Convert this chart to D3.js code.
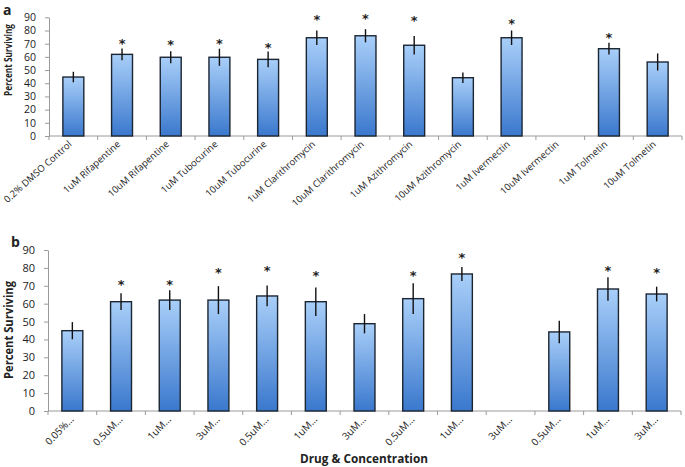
<!DOCTYPE html>
<html>
<head>
<meta charset="utf-8">
<script src="https://cdn.jsdelivr.net/npm/d3@7"></script>
<style>
  body { margin: 0; background: #fff; }
  text { font-family: "Open Sans", sans-serif; fill: #222; }
</style>
</head>
<body>
<svg id="chart" width="685" height="467"></svg>
<script>
// ---- data ----
var yTicks = [0, 10, 20, 30, 40, 50, 60, 70, 80, 90];

var catsA = ["0.2% DMSO Control", "1uM Rifapentine", "10uM Rifapentine", "1uM Tubocurine",
    "10uM Tubocurine", "1uM Clarithromycin", "10uM Clarithromycin", "1uM Azithromycin",
    "10uM Azithromycin", "1uM Ivermectin", "10uM Ivermectin", "1uM Tolmetin", "10uM Tolmetin"];
var meanA = [44.7, 61.9, 59.7, 59.7, 58.1, 74.5, 76.0, 68.8, 44.2, 74.5, 0, 66.2, 56.1];
var errA = [4.0, 4.5, 4.5, 6.5, 6.0, 5.5, 5.0, 7.0, 4.0, 5.5, 0, 4.5, 6.5];
// where the significance star sits (in percent units), null = no star
var starA = [null, 72.3, 71.5, 72.3, 69.0, 90.4, 91.0, 89.2, null, 87.4, null, 76.6, null];

var catsB = ["0.05%…", "0.5uM…", "1uM…", "3uM…", "0.5uM…", "1uM…", "3uM…",
    "0.5uM…", "1uM…", "3uM…", "0.5uM…", "1uM…", "3uM…"];
var meanB = [44.9, 61.1, 62.0, 62.0, 64.3, 61.1, 48.8, 62.8, 76.6, 0, 44.2, 68.2, 65.4];
var errB = [4.8, 4.7, 5.5, 7.8, 5.8, 8.0, 5.4, 8.6, 3.9, 0, 6.3, 6.5, 4.1];
var starB = [null, 72.3, 72.3, 78.8, 80.1, 77.3, null, 77.0, 87.2, null, null, 80.1, 78.8];

var svg = d3.select("#chart");

// bar fill gradient
var grad = svg.append("defs").append("linearGradient")
    .attr("id", "barFill")
    .attr("x1", 0).attr("y1", 0).attr("x2", 0).attr("y2", 1);
grad.append("stop").attr("offset", "0%").attr("stop-color", "#a9cff9");
grad.append("stop").attr("offset", "100%").attr("stop-color", "#3a78cd");

function drawPanel(p) {
    var g = svg.append("g");

    var x = d3.scaleBand()
        .domain(d3.range(p.cats.length))
        .range([p.left, p.right])
        .padding(0);
    var y = d3.scaleLinear()
        .domain([0, 90])
        .range([p.bottom, p.top]);

    var barW = x.bandwidth() * 0.43;

    // y axis
    var yAxis = g.append("g")
        .attr("transform", "translate(" + p.left + ",0)")
        .call(d3.axisLeft(y).tickValues(yTicks).tickSize(4).tickPadding(9).tickSizeOuter(0));
    yAxis.select(".domain").attr("stroke", "#9a9a9a");
    yAxis.selectAll(".tick line").attr("stroke", "#9a9a9a");
    yAxis.selectAll(".tick text")
        .style("font-family", "'Open Sans', sans-serif")
        .style("font-size", p.tickSize + "px")
        .attr("fill", "#222");

    // x axis line + tick marks at category boundaries
    g.append("line")
        .attr("x1", p.left).attr("x2", p.right)
        .attr("y1", p.bottom).attr("y2", p.bottom)
        .attr("stroke", "#9a9a9a");
    var bounds = d3.range(p.cats.length + 1).map((i) => i < p.cats.length ? x(i) : p.right);
    g.selectAll(".xtick")
        .data(bounds)
        .enter()
        .append("line")
        .attr("x1", (d) => d).attr("x2", (d) => d)
        .attr("y1", p.bottom).attr("y2", p.bottom + 4)
        .attr("stroke", "#9a9a9a");

    var rows = p.cats.map((c, i) => ({ i: i, cat: c, mean: p.mean[i], err: p.err[i], star: p.star[i] }));

    // bars
    g.selectAll(".bar")
        .data(rows.filter((d) => d.mean > 0))
        .enter()
        .append("rect")
        .attr("x", (d) => x(d.i) + x.bandwidth() / 2 - barW / 2)
        .attr("width", barW)
        .attr("y", (d) => y(d.mean))
        .attr("height", (d) => y(0) - y(d.mean))
        .attr("fill", "url(#barFill)")
        .attr("stroke", "#1c2633")
        .attr("stroke-width", 1.4);

    // error bars
    g.selectAll(".err")
        .data(rows.filter((d) => d.err > 0))
        .enter()
        .append("line")
        .attr("x1", (d) => x(d.i) + x.bandwidth() / 2)
        .attr("x2", (d) => x(d.i) + x.bandwidth() / 2)
        .attr("y1", (d) => y(d.mean - d.err))
        .attr("y2", (d) => y(d.mean + d.err))
        .attr("stroke", "#111")
        .attr("stroke-width", 1.4);

    // significance stars
    g.selectAll(".star")
        .data(rows.filter((d) => d.star != null))
        .enter()
        .append("text")
        .attr("x", (d) => x(d.i) + x.bandwidth() / 2)
        .attr("y", (d) => y(d.star) + 7)
        .attr("text-anchor", "middle")
        .style("font-family", "'DejaVu Sans', sans-serif")
        .style("font-size", "13px")
        .style("font-weight", "bold")
        .attr("fill", "#333")
        .text("*");

    // category labels
    g.selectAll(".xlab")
        .data(rows)
        .enter()
        .append("text")
        .attr("transform", (d) => "translate(" + (x(d.i) + x.bandwidth() / 2 + p.labDx) + "," + (p.bottom + p.labDy) + ") rotate(" + p.rot + ")")
        .attr("text-anchor", "end")
        .style("font-size", p.labSize + "px")
        .attr("fill", "#222")
        .text((d) => d.cat);

    // y title
    g.append("text")
        .attr("transform", "translate(" + p.titleX + "," + p.titleY + ") rotate(-90)")
        .attr("text-anchor", "middle")
        .style("font-size", p.titleSize + "px")
        .style("font-weight", "bold")
        .attr("textLength", p.titleLen)
        .attr("lengthAdjust", "spacingAndGlyphs")
        .text("Percent Surviving");

    // panel letter
    g.append("text")
        .attr("x", p.letterX).attr("y", p.letterY)
        .style("font-size", "14px")
        .style("font-weight", "bold")
        .attr("fill", "#111")
        .text(p.letter);

    return g;
}

drawPanel({
    cats: catsA, mean: meanA, err: errA, star: starA,
    left: 49, right: 682, top: 17.3, bottom: 136,
    tickSize: 10.5, labSize: 9.5, labDx: -1, labDy: 9, rot: -42,
    titleX: 12, titleY: 60, titleSize: 10.5, titleLen: 72,
    letter: "a", letterX: 3, letterY: 15
});

drawPanel({
    cats: catsB, mean: meanB, err: errB, star: starB,
    left: 48, right: 681, top: 250, bottom: 411,
    tickSize: 11, labSize: 10, labDx: 2, labDy: 9, rot: -46,
    titleX: 13, titleY: 330, titleSize: 11.5, titleLen: 98,
    letter: "b", letterX: 11, letterY: 247
});

// shared x title
svg.append("text")
    .attr("x", 364).attr("y", 463)
    .attr("text-anchor", "middle")
    .style("font-size", "11.5px")
    .style("font-weight", "bold")
    .attr("textLength", 128)
    .attr("lengthAdjust", "spacingAndGlyphs")
    .text("Drug & Concentration");
</script>
</body>
</html>
